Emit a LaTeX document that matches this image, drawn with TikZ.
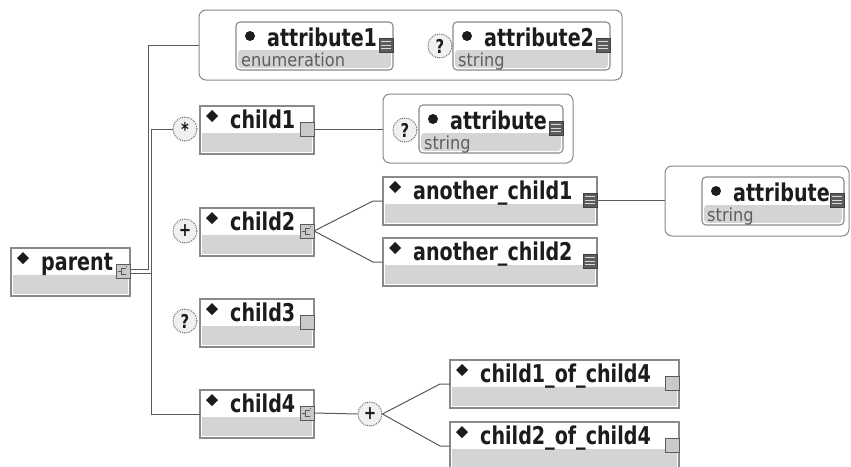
\documentclass[tikz,border=0pt]{standalone}
\usepackage{fontspec}
\setmainfont{DejaVu Sans}
\newfontfamily\lblfont[FakeStretch=0.78]{DejaVu Sans}
\newfontfamily\subfont[FakeStretch=0.9]{DejaVu Sans}
\usetikzlibrary{calc}

\definecolor{edge}{HTML}{8A8A8A}
\definecolor{band}{HTML}{D4D4D4}
\definecolor{wire}{HTML}{5A5A5A}
\definecolor{ink}{HTML}{1C1C1C}
\definecolor{subink}{HTML}{5E5E5E}
\definecolor{icondark}{HTML}{5C5C5C}
\definecolor{iconlight}{HTML}{C9C9C9}
\definecolor{occfill}{HTML}{F0F0F0}

\tikzset{
  boxbase/.style={draw=edge, line width=1.1pt, fill=white, inner sep=0pt, outer sep=0pt, anchor=north west},
  elembox/.style={boxbase, rectangle},
  attrbox/.style={boxbase, rounded corners=4pt},
  groupbox/.style={draw=edge, line width=1pt, fill=white, rounded corners=7pt, inner sep=0pt, outer sep=0pt, anchor=north west},
  lbl/.style={font=\lblfont\bfseries\fontsize{24.5}{24.5}\selectfont, text=ink, inner sep=0pt, anchor=base west},
  sublbl/.style={font=\subfont\fontsize{18}{18}\selectfont, text=subink, inner sep=0pt, anchor=base west},
  plainicon/.style={draw=wire, fill=iconlight, line width=0.9pt, minimum width=14pt, minimum height=14pt, inner sep=0pt, outer sep=0pt, anchor=north east},
  listicon/.style={plainicon, fill=icondark, draw=icondark!70!black,
    path picture={\foreach \k in {-3.5,0,3.5}{\draw[white!70!gray, line width=0.9pt] ([xshift=2pt,yshift=\k pt]path picture bounding box.west) -- ([xshift=-2pt,yshift=\k pt]path picture bounding box.east);}}},
  seqicon/.style={plainicon,
    path picture={\draw[shift={(path picture bounding box.center)}, x=1pt, y=1pt, wire, line width=0.7pt]
      (-5,0) -- (-1.5,0) (2.5,3) -- (-1.5,3) -- (-1.5,-3) -- (2.5,-3) (3,4.5) -- (4,4.5);}},
  occ/.style={circle, draw=wire, densely dotted, line width=0.9pt, fill=occfill, minimum size=24pt, inner sep=0pt,
    font=\lblfont\bfseries\fontsize{19}{19}\selectfont, text=ink},
  conn/.style={draw=wire, line width=1pt},
}

% element box: name, x, y, width, label, icon style
\newcommand\xelem[6]{%
  \node[elembox, minimum width=#4pt, minimum height=48pt] (#1) at (#2,#3) {};
  \fill[band] ([xshift=2.2pt,yshift=-27pt]#1.north west) rectangle ([xshift=-2.2pt,yshift=2.2pt]#1.south east);
  \fill[ink] ([xshift=12pt,yshift=-10pt]#1.north west) +(-6pt,0) -- +(0,6pt) -- +(6pt,0) -- +(0,-6pt) -- cycle;
  \node[lbl] at ([xshift=30pt,yshift=-22pt]#1.north west) {#5};
  \node[#6] (#1-icon) at ([yshift=-16pt]#1.north east) {};
}
% attribute box: name, x, y, width, label, type
\newcommand\xattr[6]{%
  \node[attrbox, minimum width=#4pt, minimum height=48pt] (#1) at (#2,#3) {};
  \fill[band, rounded corners=3pt] ([xshift=2.2pt,yshift=-28pt]#1.north west) rectangle ([xshift=-2.2pt,yshift=2.2pt]#1.south east);
  \fill[ink] ([xshift=14pt,yshift=-14pt]#1.north west) circle[radius=5pt];
  \node[lbl] at ([xshift=31pt,yshift=-24pt]#1.north west) {#5};
  \node[sublbl] at ([xshift=5pt,yshift=-44pt]#1.north west) {#6};
  \node[listicon] (#1-icon) at ([yshift=-16pt]#1.north east) {};
}

\begin{document}
\begin{tikzpicture}[x=1pt, y=-1pt]
\useasboundingbox (0,0) rectangle (851,466);
\fill[white] (0,0) rectangle (851,466);
\clip (0,0) rectangle (851,466);

% attribute groups
\node[groupbox, minimum width=423pt, minimum height=70pt] (g1) at (199,10) {};
\xattr{a1}{236}{22}{157}{attribute1}{enumeration}
\xattr{a2}{453}{22}{157}{attribute2}{string}
\node[occ] (o-a2) at (440,46) {?};

\node[groupbox, minimum width=190pt, minimum height=69pt] (g2) at (383,94) {};
\xattr{a3}{419}{105}{144}{attribute}{string}
\node[occ] (o-a3) at (405,130) {?};

\node[groupbox, minimum width=184pt, minimum height=70pt] (g3) at (665,166) {};
\xattr{a4}{702}{177}{142}{attribute}{string}

% elements
\xelem{parent}{11}{248}{119}{parent}{seqicon}
\xelem{child1}{200}{106}{114}{child1}{plainicon}
\xelem{child2}{200}{208}{114}{child2}{seqicon}
\xelem{child3}{200}{299}{114}{child3}{plainicon}
\xelem{child4}{200}{390}{114}{child4}{seqicon}
\xelem{ac1}{383}{177}{214}{another\_child1}{listicon}
\xelem{ac2}{383}{238}{214}{another\_child2}{listicon}
\xelem{cc1}{450}{360}{229}{child1\_of\_child4}{plainicon}
\xelem{cc2}{450}{422}{229}{child2\_of\_child4}{plainicon}

% occurrence markers
\node[occ] (o-c1) at (185,129) {\raisebox{-5pt}{*}};
\node[occ] (o-c2) at (185,231) {\raisebox{-1.5pt}{+}};
\node[occ] (o-c3) at (185,321) {?};
\node[occ] (o-c4) at (370,414) {\raisebox{-1.5pt}{+}};

% connectors
\coordinate (busA) at (148,0);
\coordinate (busB) at (151.5,0);
\coordinate (pl) at ([yshift=-2pt]parent-icon.east);
\draw[conn] ([yshift=2pt]parent-icon.east) -| (busA |- g1.west) -- (g1.west);
\draw[conn] (pl) -- (busB |- pl);
\draw[conn] (o-c1.west) -| (busB |- child4.west) -- (child4.west);

\draw[conn] (child1-icon.east) -- (child1-icon.east -| g2.west);

\coordinate (k1) at ([xshift=-10pt]ac1.west);
\coordinate (k2) at ([xshift=-10pt]ac2.west);
\draw[conn] (child2-icon.east) -- (k1) -- (ac1.west);
\draw[conn] (child2-icon.east) -- (k2) -- (ac2.west);

\draw[conn] (ac1-icon.east) -- (ac1-icon.east -| g3.west);

\draw[conn] (child4-icon.east) -- (o-c4.west);
\coordinate (k3) at ([xshift=-10pt]cc1.west);
\coordinate (k4) at ([xshift=-10pt]cc2.west);
\draw[conn] (o-c4.east) -- (k3) -- (cc1.west);
\draw[conn] (o-c4.east) -- (k4) -- (cc2.west);
\end{tikzpicture}
\end{document}
